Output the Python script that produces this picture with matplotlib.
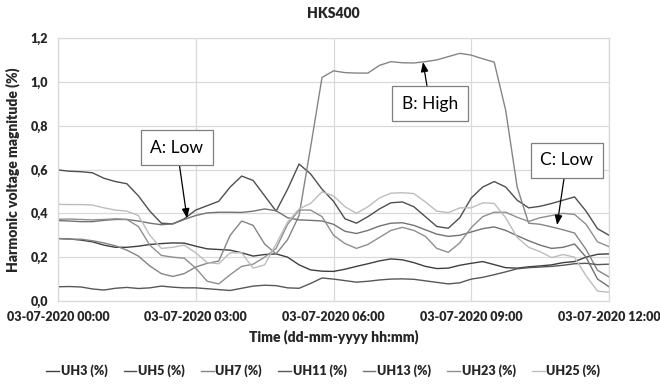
import matplotlib
matplotlib.use("Agg")
import matplotlib.pyplot as plt
import numpy as np

plt.rcParams['font.family'] = ['Lato', 'DejaVu Sans']

# time in hours after 03-07-2020 00:00, 15-minute samples
hours = [i * 0.25 for i in range(49)]

uh3 = [0.285, 0.283, 0.278, 0.270, 0.255, 0.245, 0.245, 0.250, 0.258, 0.262,
       0.265, 0.264, 0.250, 0.238, 0.235, 0.232, 0.220, 0.205, 0.212, 0.215,
       0.200, 0.165, 0.142, 0.136, 0.135, 0.145, 0.158, 0.170, 0.183, 0.192,
       0.188, 0.175, 0.158, 0.148, 0.150, 0.163, 0.172, 0.180, 0.166, 0.152,
       0.150, 0.156, 0.160, 0.165, 0.175, 0.180, 0.200, 0.213, 0.215]
uh5 = [0.598, 0.592, 0.590, 0.585, 0.560, 0.545, 0.535, 0.480, 0.410, 0.355,
       0.352, 0.375, 0.415, 0.435, 0.455, 0.520, 0.570, 0.550, 0.480, 0.410,
       0.510, 0.625, 0.580, 0.510, 0.455, 0.375, 0.355, 0.385, 0.420, 0.448,
       0.452, 0.430, 0.385, 0.340, 0.332, 0.380, 0.470, 0.520, 0.545, 0.520,
       0.460, 0.425, 0.432, 0.445, 0.460, 0.475, 0.410, 0.330, 0.300]
uh7 = [0.285, 0.282, 0.282, 0.275, 0.265, 0.252, 0.232, 0.205, 0.160, 0.125,
       0.112, 0.125, 0.155, 0.172, 0.182, 0.300, 0.365, 0.345, 0.260, 0.215,
       0.280, 0.390, 0.700, 1.020, 1.050, 1.042, 1.040, 1.040, 1.075, 1.092,
       1.087, 1.086, 1.092, 1.100, 1.115, 1.130, 1.122, 1.105, 1.090, 0.870,
       0.520, 0.355, 0.350, 0.338, 0.325, 0.310, 0.235, 0.140, 0.110]
uh11 = [0.065, 0.066, 0.064, 0.055, 0.050, 0.058, 0.062, 0.057, 0.060, 0.068,
        0.063, 0.060, 0.060, 0.056, 0.052, 0.048, 0.058, 0.068, 0.072, 0.070,
        0.060, 0.058, 0.080, 0.105, 0.100, 0.093, 0.086, 0.090, 0.096, 0.100,
        0.101, 0.099, 0.092, 0.085, 0.078, 0.083, 0.100, 0.108, 0.120, 0.133,
        0.147, 0.152, 0.155, 0.158, 0.163, 0.170, 0.172, 0.166, 0.168]
uh13 = [0.367, 0.365, 0.362, 0.362, 0.368, 0.372, 0.372, 0.365, 0.355, 0.348,
        0.352, 0.372, 0.390, 0.402, 0.405, 0.405, 0.404, 0.410, 0.420, 0.412,
        0.380, 0.370, 0.368, 0.365, 0.350, 0.318, 0.308, 0.322, 0.342, 0.355,
        0.357, 0.345, 0.325, 0.305, 0.295, 0.300, 0.315, 0.330, 0.338, 0.322,
        0.298, 0.275, 0.255, 0.240, 0.245, 0.260, 0.200, 0.100, 0.065]
uh23 = [0.373, 0.374, 0.372, 0.370, 0.372, 0.375, 0.372, 0.340, 0.255, 0.208,
        0.200, 0.195, 0.150, 0.090, 0.078, 0.120, 0.158, 0.168, 0.200, 0.240,
        0.350, 0.415, 0.415, 0.385, 0.300, 0.262, 0.240, 0.258, 0.290, 0.322,
        0.336, 0.322, 0.295, 0.240, 0.222, 0.265, 0.335, 0.385, 0.405, 0.405,
        0.382, 0.363, 0.380, 0.390, 0.400, 0.395, 0.350, 0.270, 0.248]
uh25 = [0.441, 0.440, 0.440, 0.438, 0.425, 0.415, 0.410, 0.390, 0.300, 0.240,
        0.245, 0.255, 0.220, 0.175, 0.170, 0.220, 0.220, 0.150, 0.165, 0.260,
        0.360, 0.420, 0.445, 0.498, 0.480, 0.430, 0.400, 0.430, 0.470, 0.492,
        0.494, 0.490, 0.452, 0.410, 0.403, 0.425, 0.425, 0.448, 0.445, 0.380,
        0.290, 0.245, 0.225, 0.198, 0.212, 0.200, 0.115, 0.045, 0.040]

series_names = ["UH3 (%)", "UH5 (%)", "UH7 (%)", "UH11 (%)", "UH13 (%)", "UH23 (%)", "UH25 (%)"]
series_values = [uh3, uh5, uh7, uh11, uh13, uh23, uh25]
series_colors = ["#3f3f3f", "#4f4f4f", "#858585", "#575757", "#737373", "#8f8f8f", "#bdbdbd"]

xtick_pos = [0, 3, 6, 9, 12]
xtick_labels = ["03-07-2020 00:00", "03-07-2020 03:00", "03-07-2020 06:00",
                "03-07-2020 09:00", "03-07-2020 12:00"]
ytick_pos = [0.0, 0.2, 0.4, 0.6, 0.8, 1.0, 1.2]
ytick_labels = ["0,0", "0,2", "0,4", "0,6", "0,8", "1,0", "1,2"]

W = 'heavy'
TXT = '#262626'

fig = plt.figure(figsize=(6.6, 3.87), dpi=100)
ax = fig.add_axes([58/660, 1-301/387, (609-58)/660, (301-38)/387])

for name, vals, col in zip(series_names, series_values, series_colors):
    ax.plot(hours, vals, color=col, lw=1.0, label=name)

ax.set_xlim(0, 12)
ax.set_ylim(0, 1.2)
ax.set_xticks(xtick_pos)
ax.set_xticklabels(xtick_labels, fontsize=9, fontweight=W, color=TXT)
ax.set_yticks(ytick_pos)
ax.set_yticklabels(ytick_labels, fontsize=9, fontweight=W, color=TXT)
ax.tick_params(length=0, pad=7)
ax.grid(True, color="#d9d9d9", lw=0.9)
ax.set_axisbelow(True)
for s in ax.spines.values():
    s.set_color("#d9d9d9")
    s.set_linewidth(0.9)

ax.set_xlabel("Time (dd-mm-yyyy hh:mm)", fontsize=10, fontweight=W, color=TXT, labelpad=5)
ax.set_ylabel("Harmonic voltage magnitude (%)", fontsize=10, fontweight=W, color=TXT, labelpad=8)
fig.text(333/660, 1-13/387, "HKS400", ha='center', va='center', fontsize=10,
         fontweight=W, color=TXT)

boxkw = dict(boxstyle='square,pad=0.55', fc='white', ec='#7f7f7f', lw=0.9)
arrowkw = dict(arrowstyle='-|>,head_length=0.45,head_width=0.18', color='black', lw=0.9,
               shrinkA=0, shrinkB=0)
ax.annotate("A: Low", xy=(2.81, 0.378), xytext=(2.59, 0.70), ha='center', va='center',
            fontsize=12.5, bbox=boxkw, arrowprops=arrowkw)
ax.annotate("B: High", xy=(7.95, 1.09), xytext=(8.1, 0.90), ha='center', va='center',
            fontsize=12.5, bbox=boxkw, arrowprops=arrowkw)
ax.annotate("C: Low", xy=(10.87, 0.347), xytext=(11.08, 0.643), ha='center', va='center',
            fontsize=12.5, bbox=boxkw, arrowprops=arrowkw)

leg = fig.legend(loc='center', bbox_to_anchor=(0.49, 1-371/387), ncol=7, frameon=False,
                 handlelength=1.0, handletextpad=0.15, columnspacing=1.3,
                 prop={'size': 9, 'weight': W})
for t in leg.get_texts():
    t.set_color(TXT)

fig.savefig("out.png", dpi=100)
